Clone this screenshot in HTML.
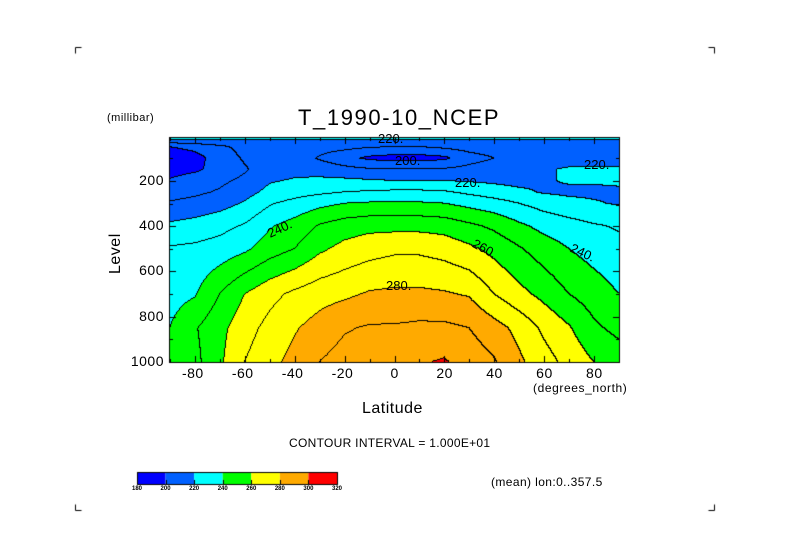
<!DOCTYPE html>
<html><head><meta charset="utf-8"><style>
body{margin:0;background:#fff;}
#wrap{position:relative;width:789px;height:558px;overflow:hidden;font-family:"Liberation Sans",sans-serif;color:#000;}
.t{position:absolute;white-space:nowrap;}
canvas{position:absolute;left:0;top:0;}
</style></head><body>
<div id="wrap">
<canvas id="cv" width="789" height="558"></canvas>
<div class="t" style="left:298px;top:105px;font-size:22px;letter-spacing:1.6px;">T_1990-10_NCEP</div>
<div class="t" style="left:107px;top:112px;font-size:11px;letter-spacing:0.5px;">(millibar)</div>
<div class="t" style="left:533px;top:381px;font-size:12px;letter-spacing:0.6px;">(degrees_north)</div>
<div class="t" style="left:362px;top:400px;font-size:16px;letter-spacing:0.5px;">Latitude</div>
<div class="t" style="left:107px;font-size:16px;transform:rotate(-90deg);transform-origin:left top;top:274px;letter-spacing:0.5px;">Level</div>
<div class="t" style="left:289px;top:436px;font-size:12px;letter-spacing:0.3px;">CONTOUR INTERVAL = 1.000E+01</div>
<div class="t" style="left:491px;top:475px;font-size:12px;letter-spacing:0.4px;">(mean) lon:0..357.5</div>
<div id="labels"></div>
</div>
<script>
const lats=[-90,-80,-70,-60,-50,-40,-30,-20,-10,0,10,20,30,40,50,60,70,80,90];
const levels=[1000,850,700,500,400,300,250,200,150,100,50,30,20,10];
const t1000=[240,247,258,270,277,283,290,294,296,297,299,301,296,291,282,274,267,260,256];
const t850=[240,249,257,266,273,279,284,289,291,291,292,292,290,284,277,268,261,252,247];
const t700=[236,239,250,260,267,272,276,278,281,282,282,281,279,270,263,257,250,245,240];
const t500=[231,232,234,238,245,250,258,263,266,268,268,266,262,257,251,245,240,236,233];
const t400=[222,224,227,231,239,244,251,255,257,257,257,256,252,248,242,237,234,231,229];
const t300=[211,213,216,221,229,233,237,240,241,241,241,240,237,234,230,226,223,221,219];
const t250=[206,208,211,216,223,226,228,230,231,232,232,231,228,225,222,219,218,218,218];
const t200=[201,205,208,212,219,221,222,222,221,220,220,220,219,218,217,219,221,221,222];
const t150=[196,198,204,209,215,217,216,213,211,211,211,211,213,215,217,219,221,221,221];
const t100=[193,196,205,211,215,215,209,203,198,196,196,198,206,210,214,216,216,217,217];
const t50=[200,203,208,213,216,216,214,213,211,210,210,212,214,215,215,215,214,214,213];
const t30=[212,214,216,217,218,218,217,216,216,216,216,216,217,217,217,217,217,217,217];
const t20=[219,219,219,219,219,219,219,219,219,219,219,219,219,219,219,219,219,219,219];
const t10=[223,223,223,223,223,223,223,223,223,223,223,223,223,223,223,223,223,223,223];
const grid=[t1000,t850,t700,t500,t400,t300,t250,t200,t150,t100,t50,t30,t20,t10];
const xTicks=[-80,-60,-40,-20,0,20,40,60,80];
const yTicks=[200,400,600,800,1000];
const cbLabels=[180,200,220,240,260,280,300,320];
const colors=[[0,0,255],[0,96,255],[0,255,255],[0,255,0],[255,255,0],[255,170,0],[255,0,0]];

const L=170,R=619,T=138,B=362;
const xs=v=>L+(v+90)/180*(R-L);
const ys=p=>B-(1000-p)*0.2263;
const pinv=y=>1000-(B-y)/0.2263;
function val(lat,p){
  let i=Math.min(lats.length-2,Math.max(0,Math.floor((lat+90)/10)));
  let fx=(lat-lats[i])/10; fx=Math.max(0,Math.min(1,fx));
  let j=0; while(j<levels.length-2&&p<levels[j+1])j++;
  let fy=(levels[j]-p)/(levels[j]-levels[j+1]); fy=Math.max(0,Math.min(1,fy));
  const a=grid[j][i],b=grid[j][i+1],c=grid[j+1][i],d=grid[j+1][i+1];
  return (a*(1-fx)+b*fx)*(1-fy)+(c*(1-fx)+d*fx)*fy;
}
const cv=document.getElementById('cv'),ctx=cv.getContext('2d');
const W=R-L,H=B-T;
const img=ctx.createImageData(W,H);
const vals=[];
for(let y=0;y<H;y++){vals.push([]);for(let x=0;x<W;x++){
  const lat=-90+(x+0.5)/W*180,p=pinv(T+y+0.5);vals[y].push(val(lat,p));}}
for(let y=0;y<H;y++)for(let x=0;x<W;x++){
  const v=vals[y][x];let k=Math.max(0,Math.min(6,Math.floor((v-180)/20)));
  let c=colors[k];const lb=Math.floor(v/10);
  if((x+1<W&&Math.floor(vals[y][x+1]/10)!=lb)||(y+1<H&&Math.floor(vals[y+1][x]/10)!=lb))c=[0,0,0];
  const o=(y*W+x)*4;img.data[o]=c[0];img.data[o+1]=c[1];img.data[o+2]=c[2];img.data[o+3]=255;}
ctx.putImageData(img,L,T);
ctx.strokeStyle='#000';ctx.lineWidth=1;
ctx.strokeRect(L-0.5,T-0.5,W+1,H+1);
ctx.beginPath();
for(let v=-90;v<=90;v+=10){const x=Math.round(xs(v))+0.5,len=(v%20==0)?6:3;
  ctx.moveTo(x,B);ctx.lineTo(x,B-len);ctx.moveTo(x,T);ctx.lineTo(x,T+len);}
for(let p=100;p<=1000;p+=100){const y=Math.round(ys(p))+0.5,len=(p%200==0)?6:3;
  ctx.moveTo(L,y);ctx.lineTo(L+len,y);ctx.moveTo(R,y);ctx.lineTo(R-len,y);}
[[75,47,1,1],[714,47,-1,1],[75,510,1,-1],[714,510,-1,-1]].forEach(c=>{
  ctx.moveTo(c[0]+0.5,c[1]+0.5+6*c[3]);ctx.lineTo(c[0]+0.5,c[1]+0.5);ctx.lineTo(c[0]+0.5+6*c[2],c[1]+0.5);});
ctx.stroke();
const cbL=137,cbR=337,cbT=472,cbB=484,cw=(cbR-cbL)/colors.length;
colors.forEach((c,i)=>{ctx.fillStyle=`rgb(${c})`;ctx.fillRect(cbL+i*cw,cbT,cw,cbB-cbT);});
ctx.strokeRect(cbL+0.5,cbT+0.5,cbR-cbL,cbB-cbT);
ctx.beginPath();for(let i=1;i<colors.length;i++){const x=Math.round(cbL+i*cw)+0.5;ctx.moveTo(x,cbB-4);ctx.lineTo(x,cbB);}ctx.stroke();
const lab=document.getElementById('labels');
function addT(txt,x,y,fs,name,extra){const d=document.createElement('div');d.className='t';d.textContent=txt;
  d.style.left=x+'px';d.style.top=y+'px';d.style.fontSize=fs+'px';if(extra)d.style.cssText+=extra;
  
  
  lab.appendChild(d);return d;}
xTicks.forEach(v=>{addT(String(v),xs(v)-(v<0?13:(v==0?4:8)),365,14,'x-tick-label','letter-spacing:0.5px;');});
yTicks.forEach(p=>{addT(String(p),0,ys(p)-9,14,'y-tick-label','width:164px;text-align:right;letter-spacing:0.5px;');});
cbLabels.forEach((v,i)=>{addT(String(v),cbL+i*cw-7,486,6,'colorbar-label','font-weight:bold;width:14px;text-align:center;');});
const clabels=[["220.",378,131],["200.",395,153],["220.",455,175],["220.",584,157],["240.",267,221,-25],["260.",472,241,28],["240.",570,245,25],["280.",386,278]];
clabels.forEach(c=>{addT(c[0],c[1],c[2],13,'contour-label',c[3]?`transform:rotate(${c[3]}deg);`:'');});
</script>
</body></html>
